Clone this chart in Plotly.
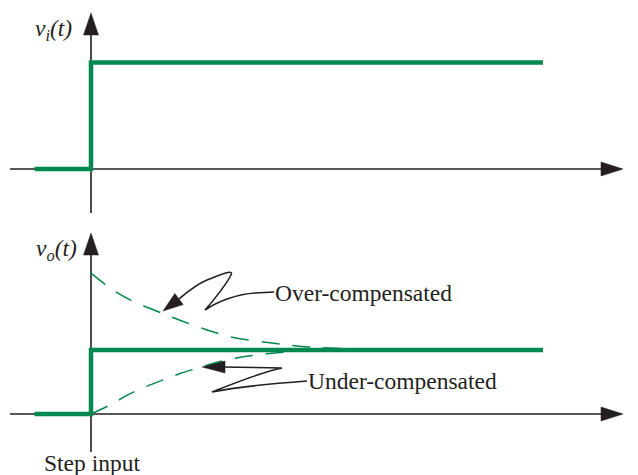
import plotly.graph_objects as go

# time in arbitrary units, step applied at t = 0
t_step = [-1, 0, 0, 8]
vi_step = [0, 0, 1, 1]
vo_step = [0, 0, 1, 1]

# dashed responses
t_over = [0, 0.4, 0.7, 1.3, 1.9, 2.5, 3.2, 3.8, 4.8, 5.8, 8]
v_over = [2.2, 1.93, 1.78, 1.56, 1.36, 1.2, 1.11, 1.05, 1.015, 1.0, 1.0]
t_under = [0, 0.4, 0.65, 0.95, 1.3, 1.6, 1.9, 2.2, 2.6, 3.2, 3.9, 5, 8]
v_under = [0, 0.17, 0.3, 0.42, 0.54, 0.64, 0.72, 0.8, 0.88, 0.95, 0.99, 1.0, 1.0]

GREEN = "#00884f"
INK = "#231f20"
FONT = "Liberation Serif"

# geometry in page pixels (the page body adds an 8px margin)
OFF = 8
W, H = 638 - OFF, 475 - OFF
X0, KX = 91, 56.5                 # t=0 column, px per time unit
TOP_Y0, TOP_K = 169, 106.5        # v_i = 0 row, px per volt
BOT_Y0, BOT_K = 414, 64           # v_o = 0 row, px per volt
TOP_PX = (OFF, 222)
BOT_PX = (224, 475)

def t_of(px):
    return (px - X0) / KX

def xr():
    return [t_of(OFF), t_of(OFF + W)]

def yr(px, y0, k):
    return [(y0 - px[1]) / k, (y0 - px[0]) / k]

def dom(px):
    return [1 - (px[1] - OFF) / H, 1 - (px[0] - OFF) / H]

fig = go.Figure()

fig.add_trace(go.Scatter(x=t_step, y=vi_step, mode="lines", xaxis="x", yaxis="y",
                         line=dict(color=GREEN, width=4.5), hoverinfo="skip"))
fig.add_trace(go.Scatter(x=t_over, y=v_over, mode="lines", xaxis="x2", yaxis="y2",
                         line=dict(color=GREEN, width=1.5, dash="18px,13px", shape="spline"),
                         hoverinfo="skip"))
fig.add_trace(go.Scatter(x=t_under, y=v_under, mode="lines", xaxis="x2", yaxis="y2",
                         line=dict(color=GREEN, width=1.5, dash="18px,13px", shape="spline"),
                         hoverinfo="skip"))
fig.add_trace(go.Scatter(x=t_step, y=vo_step, mode="lines", xaxis="x2", yaxis="y2",
                         line=dict(color=GREEN, width=4.5), hoverinfo="skip"))

shapes = []

def axes(xref, yref, y_bot, y_tip, k):
    t_left, t_tip = t_of(10), t_of(623)
    # horizontal axis + arrow
    shapes.append(dict(type="line", xref=xref, yref=yref, x0=t_left, x1=t_tip - 18 / KX,
                       y0=0, y1=0, line=dict(color=INK, width=1.6), layer="below"))
    shapes.append(dict(type="path", xref=xref, yref=yref, xsizemode="pixel", ysizemode="pixel",
                       xanchor=t_tip, yanchor=0, path="M0,0 L-22,7 L-22,-7 Z",
                       fillcolor=INK, line=dict(color=INK, width=0.5)))
    # vertical axis + arrow
    shapes.append(dict(type="line", xref=xref, yref=yref, x0=0, x1=0,
                       y0=y_bot, y1=y_tip - 18 / k, line=dict(color=INK, width=1.6), layer="below"))
    shapes.append(dict(type="path", xref=xref, yref=yref, xsizemode="pixel", ysizemode="pixel",
                       xanchor=0, yanchor=y_tip, path="M0,0 L-7.5,-22 L7.5,-22 Z",
                       fillcolor=INK, line=dict(color=INK, width=0.5)))

axes("x", "y", (TOP_Y0 - 213) / TOP_K, (TOP_Y0 - 13) / TOP_K, TOP_K)
axes("x2", "y2", (BOT_Y0 - 452) / BOT_K, (BOT_Y0 - 233) / BOT_K, BOT_K)

# callout squiggles (pixel offsets from the arrow tip)
over_tip = (t_of(163), (BOT_Y0 - 311) / BOT_K)
under_tip = (t_of(202), (BOT_Y0 - 367) / BOT_K)
callouts = [
    (over_tip,
     "M111,19 L92,18 C75,17 55,10 42,1 C52,12 64,28 68,36 C71,42 60,37 44,31 C32,26 22,17 16,12",
     "M0,0 L11.8,17.6 L20.2,6.4 Z"),
    (under_tip,
     "M105,-14 C78,-16 40,-19 10,-25 C35,-15 60,-5 80,-1 L20,0",
     "M0,0 L23,6 L23,-6 Z"),
]
for (tx, ty), stroke, head in callouts:
    shapes.append(dict(type="path", xref="x2", yref="y2", xsizemode="pixel", ysizemode="pixel",
                       xanchor=tx, yanchor=ty, path=stroke, line=dict(color=INK, width=1.6)))
    shapes.append(dict(type="path", xref="x2", yref="y2", xsizemode="pixel", ysizemode="pixel",
                       xanchor=tx, yanchor=ty, path=head, fillcolor=INK,
                       line=dict(color=INK, width=0.5)))

font = dict(family=FONT, size=23.5, color=INK)
annotations = [
    dict(text="<i>v<sub>i</sub>(t)</i>", xref="x", yref="y", x=t_of(74), y=(TOP_Y0 - 30) / TOP_K,
         xanchor="right", yanchor="middle", showarrow=False, font=font),
    dict(text="<i>v<sub>o</sub>(t)</i>", xref="x2", yref="y2", x=t_of(79), y=(BOT_Y0 - 250) / BOT_K,
         xanchor="right", yanchor="middle", showarrow=False, font=font),
    dict(text="Over-compensated", xref="x2", yref="y2", x=t_of(273), y=(BOT_Y0 - 293) / BOT_K,
         xanchor="left", yanchor="middle", showarrow=False, font=font),
    dict(text="Under-compensated", xref="x2", yref="y2", x=t_of(306), y=(BOT_Y0 - 381) / BOT_K,
         xanchor="left", yanchor="middle", showarrow=False, font=font),
    dict(text="Step input", xref="x2", yref="y2", x=t_of(92), y=(BOT_Y0 - 463) / BOT_K,
         xanchor="center", yanchor="middle", showarrow=False, font=font),
]

hidden = dict(visible=False, showgrid=False, zeroline=False, fixedrange=True)
fig.update_layout(
    width=W, height=H,
    margin=dict(l=0, r=0, t=0, b=0),
    paper_bgcolor="white", plot_bgcolor="white",
    showlegend=False,
    xaxis=dict(hidden, range=xr(), domain=[0, 1], anchor="y"),
    yaxis=dict(hidden, range=yr(TOP_PX, TOP_Y0, TOP_K), domain=dom(TOP_PX), anchor="x"),
    xaxis2=dict(hidden, range=xr(), domain=[0, 1], anchor="y2"),
    yaxis2=dict(hidden, range=yr(BOT_PX, BOT_Y0, BOT_K), domain=dom(BOT_PX), anchor="x2"),
    shapes=shapes,
    annotations=annotations,
)

fig.write_html("out.html")
